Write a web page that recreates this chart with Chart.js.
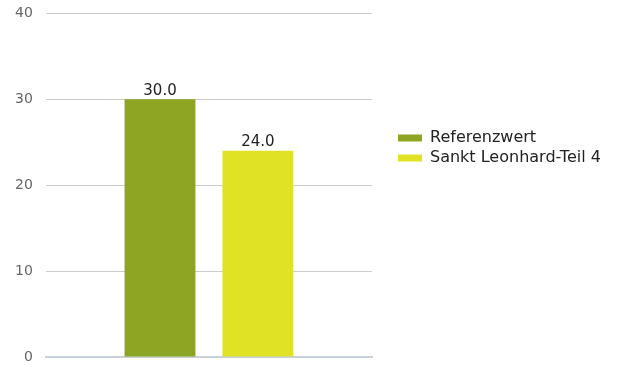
<!DOCTYPE html>
<html><head><meta charset="utf-8">
<script src="https://cdn.jsdelivr.net/npm/chart.js@4/dist/chart.umd.min.js"></script>
<style>html,body{margin:0;padding:0;background:#fff}#wrap{width:617px;height:372px;position:relative}</style>
</head><body><div id="wrap"><canvas id="c" width="617" height="372"></canvas></div>
<script>
const categories = [''];
const seriesNames = ['Referenzwert', 'Sankt Leonhard-Teil 4'];
const referenzwert = [30.0];
const sanktLeonhard = [24.0];
const yTicks = [0, 10, 20, 30, 40];

const valueLabels = {
  id: 'valueLabels',
  afterDatasetsDraw(chart) {
    const ctx = chart.ctx;
    ctx.save();
    ctx.font = '15px "DejaVu Sans"';
    ctx.fillStyle = '#222';
    ctx.textAlign = 'center';
    ctx.textBaseline = 'bottom';
    chart.data.datasets.forEach((ds, i) => {
      chart.getDatasetMeta(i).data.forEach((bar, j) => {
        ctx.fillText(ds.data[j].toFixed(1), bar.x, bar.y - 1);
      });
    });
    ctx.restore();
  }
};

const legendPlace = {
  id: 'legendPlace',
  afterLayout(chart) {
    const l = chart.legend;
    if (!l) return;
    l.left = 394; l.right = chart.width; l.width = chart.width - 394;
    l.top = 126;
  }
};

new Chart(document.getElementById('c'), {
  type: 'bar',
  data: {
    labels: categories,
    datasets: [
      { label: seriesNames[0], data: referenzwert, backgroundColor: '#8DA523' },
      { label: seriesNames[1], data: sanktLeonhard, backgroundColor: '#E0E226' }
    ]
  },
  options: {
    responsive: false,
    animation: false,
    categoryPercentage: 0.6,
    barPercentage: 0.724,
    layout: { padding: { top: 0, left: 10, right: 124.3, bottom: 7 } },
    plugins: {
      tooltip: { enabled: false },
      legend: {
        position: 'right',
        align: 'start',
        labels: {
          boxWidth: 24, boxHeight: 7, padding: 4,
          color: '#222',
          font: { family: '"DejaVu Sans"', size: 16 }
        }
      }
    },
    scales: {
      x: {
        ticks: { display: false },
        grid: { display: false },
        border: { display: true, color: '#c8d0dc', width: 2 }
      },
      y: {
        min: 0, max: 40,
        afterBuildTicks(scale) { scale.ticks = yTicks.map(v => ({ value: v })); },
        ticks: { color: '#666', padding: 5, font: { family: '"DejaVu Sans"', size: 14 } },
        grid: { color: '#cccccc', drawTicks: true, tickLength: 8, tickColor: 'rgba(0,0,0,0)' },
        border: { display: false }
      }
    }
  },
  plugins: [valueLabels, legendPlace]
});
</script></body></html>
